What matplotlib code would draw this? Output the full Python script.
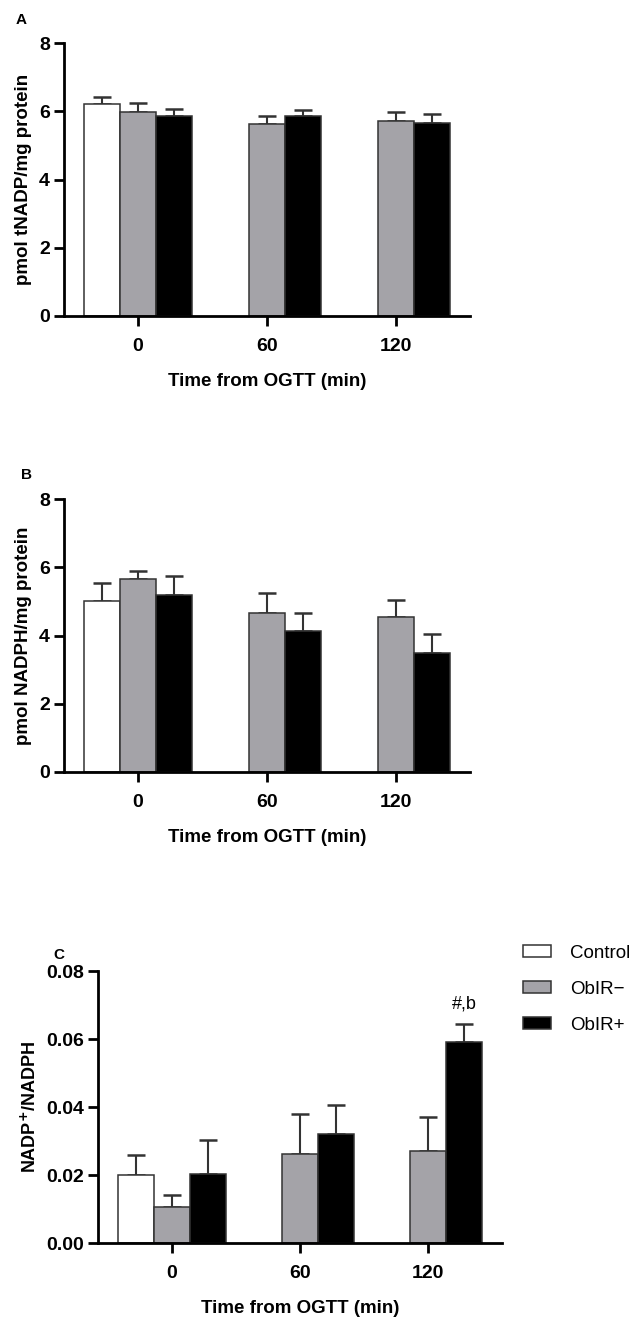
import matplotlib
matplotlib.use("Agg")
import matplotlib.pyplot as plt
import numpy as np

plt.rcParams['font.family'] = ['Liberation Sans', 'DejaVu Sans']

times = ["0", "60", "120"]
groups = ["Control", "ObIR\u2212", "ObIR+"]
colors = ["#ffffff", "#a4a3a8", "#000000"]

# Panel A: pmol tNADP/mg protein  (None = not measured)
a_control = [6.21, None, None]
a_control_err = [0.20, None, None]
a_neg = [5.97, 5.64, 5.70]
a_neg_err = [0.26, 0.21, 0.27]
a_pos = [5.85, 5.85, 5.65]
a_pos_err = [0.21, 0.19, 0.26]

# Panel B: pmol NADPH/mg protein
b_control = [5.01, None, None]
b_control_err = [0.52, None, None]
b_neg = [5.66, 4.66, 4.53]
b_neg_err = [0.24, 0.59, 0.51]
b_pos = [5.19, 4.13, 3.48]
b_pos_err = [0.54, 0.53, 0.57]

# Panel C: NADP+/NADPH
c_control = [0.0199, None, None]
c_control_err = [0.0061, None, None]
c_neg = [0.0105, 0.0263, 0.0270]
c_neg_err = [0.0036, 0.0117, 0.0100]
c_pos = [0.0202, 0.0320, 0.0590]
c_pos_err = [0.0100, 0.0087, 0.0054]

fig = plt.figure(figsize=(6.3, 13.2), dpi=100)

W = 0.28
EDGE = "#333333"

def draw(ax, series, ylim, yticks, yticklabels, ylabel, ylabel_size=13.5):
    handles = []
    for k, (vals, errs) in enumerate(series):
        xs, hs, es = [], [], []
        for i, (v, e) in enumerate(zip(vals, errs)):
            if v is None:
                continue
            xs.append(i + (k - 1) * W)
            hs.append(v)
            es.append(e)
        b = ax.bar(xs, hs, width=W, color=colors[k], edgecolor=EDGE,
                   linewidth=1.1, zorder=2, label=groups[k])
        ax.errorbar(xs, hs, yerr=[np.zeros(len(es)), es], fmt="none",
                    ecolor=EDGE, elinewidth=1.5, capsize=6.5, capthick=1.8,
                    zorder=1)
        handles.append(b)
    ax.set_xlim(-0.575, 2.575)
    ax.set_ylim(*ylim)
    ax.set_yticks(yticks)
    ax.set_yticklabels(yticklabels, fontsize=14, fontweight="bold")
    ax.set_xticks(range(len(times)))
    ax.set_xticklabels(times, fontsize=14, fontweight="bold")
    for s in ["top", "right"]:
        ax.spines[s].set_visible(False)
    for s in ["left", "bottom"]:
        ax.spines[s].set_linewidth(2.0)
        ax.spines[s].set_color("black")
    ax.tick_params(axis="both", direction="out", length=7.5, width=2.0,
                   colors="black")
    ax.tick_params(axis="x", pad=8)
    ax.tick_params(axis="y", pad=2.5)
    ax.set_xlabel("Time from OGTT (min)", fontsize=13.5, fontweight="bold",
                  labelpad=13)
    ax.set_ylabel(ylabel, fontsize=ylabel_size, fontweight="bold", labelpad=5)
    return handles

axA = fig.add_axes([64/630, 1-316/1320, 406/630, 273/1320])
draw(axA, [(a_control, a_control_err), (a_neg, a_neg_err), (a_pos, a_pos_err)],
     (0, 8), [0, 2, 4, 6, 8], ["0", "2", "4", "6", "8"],
     "pmol tNADP/mg protein")

axB = fig.add_axes([64/630, 1-772/1320, 406/630, 273/1320])
draw(axB, [(b_control, b_control_err), (b_neg, b_neg_err), (b_pos, b_pos_err)],
     (0, 8), [0, 2, 4, 6, 8], ["0", "2", "4", "6", "8"],
     "pmol NADPH/mg protein")

axC = fig.add_axes([98/630, 1-1243/1320, 404/630, 272/1320])
hC = draw(axC, [(c_control, c_control_err), (c_neg, c_neg_err), (c_pos, c_pos_err)],
          (0, 0.08), [0, 0.02, 0.04, 0.06, 0.08],
          ["0.00", "0.02", "0.04", "0.06", "0.08"],
          "NADP$^{\\mathbf{+}}$/NADPH", ylabel_size=13)

# significance annotation
axC.text(2 + W, c_pos[2] + c_pos_err[2] + 0.0035, "#,b", ha="center",
         va="bottom", fontsize=13)

# panel letters
fig.text(21/630, 1-20/1320, "A", fontsize=11, fontweight="bold", ha="center", va="center")
fig.text(26/630, 1-475/1320, "B", fontsize=11, fontweight="bold", ha="center", va="center")
fig.text(59/630, 1-955/1320, "C", fontsize=11, fontweight="bold", ha="center", va="center")

fig.legend(handles=hC, labels=groups, loc="upper left",
           bbox_to_anchor=(523/630, 1-945/1320), frameon=False,
           fontsize=13.5, handlelength=1.5, handleheight=0.6,
           handletextpad=1.0, labelspacing=1.0, borderpad=0,
           borderaxespad=0)

fig.savefig("out.png", dpi=100)
